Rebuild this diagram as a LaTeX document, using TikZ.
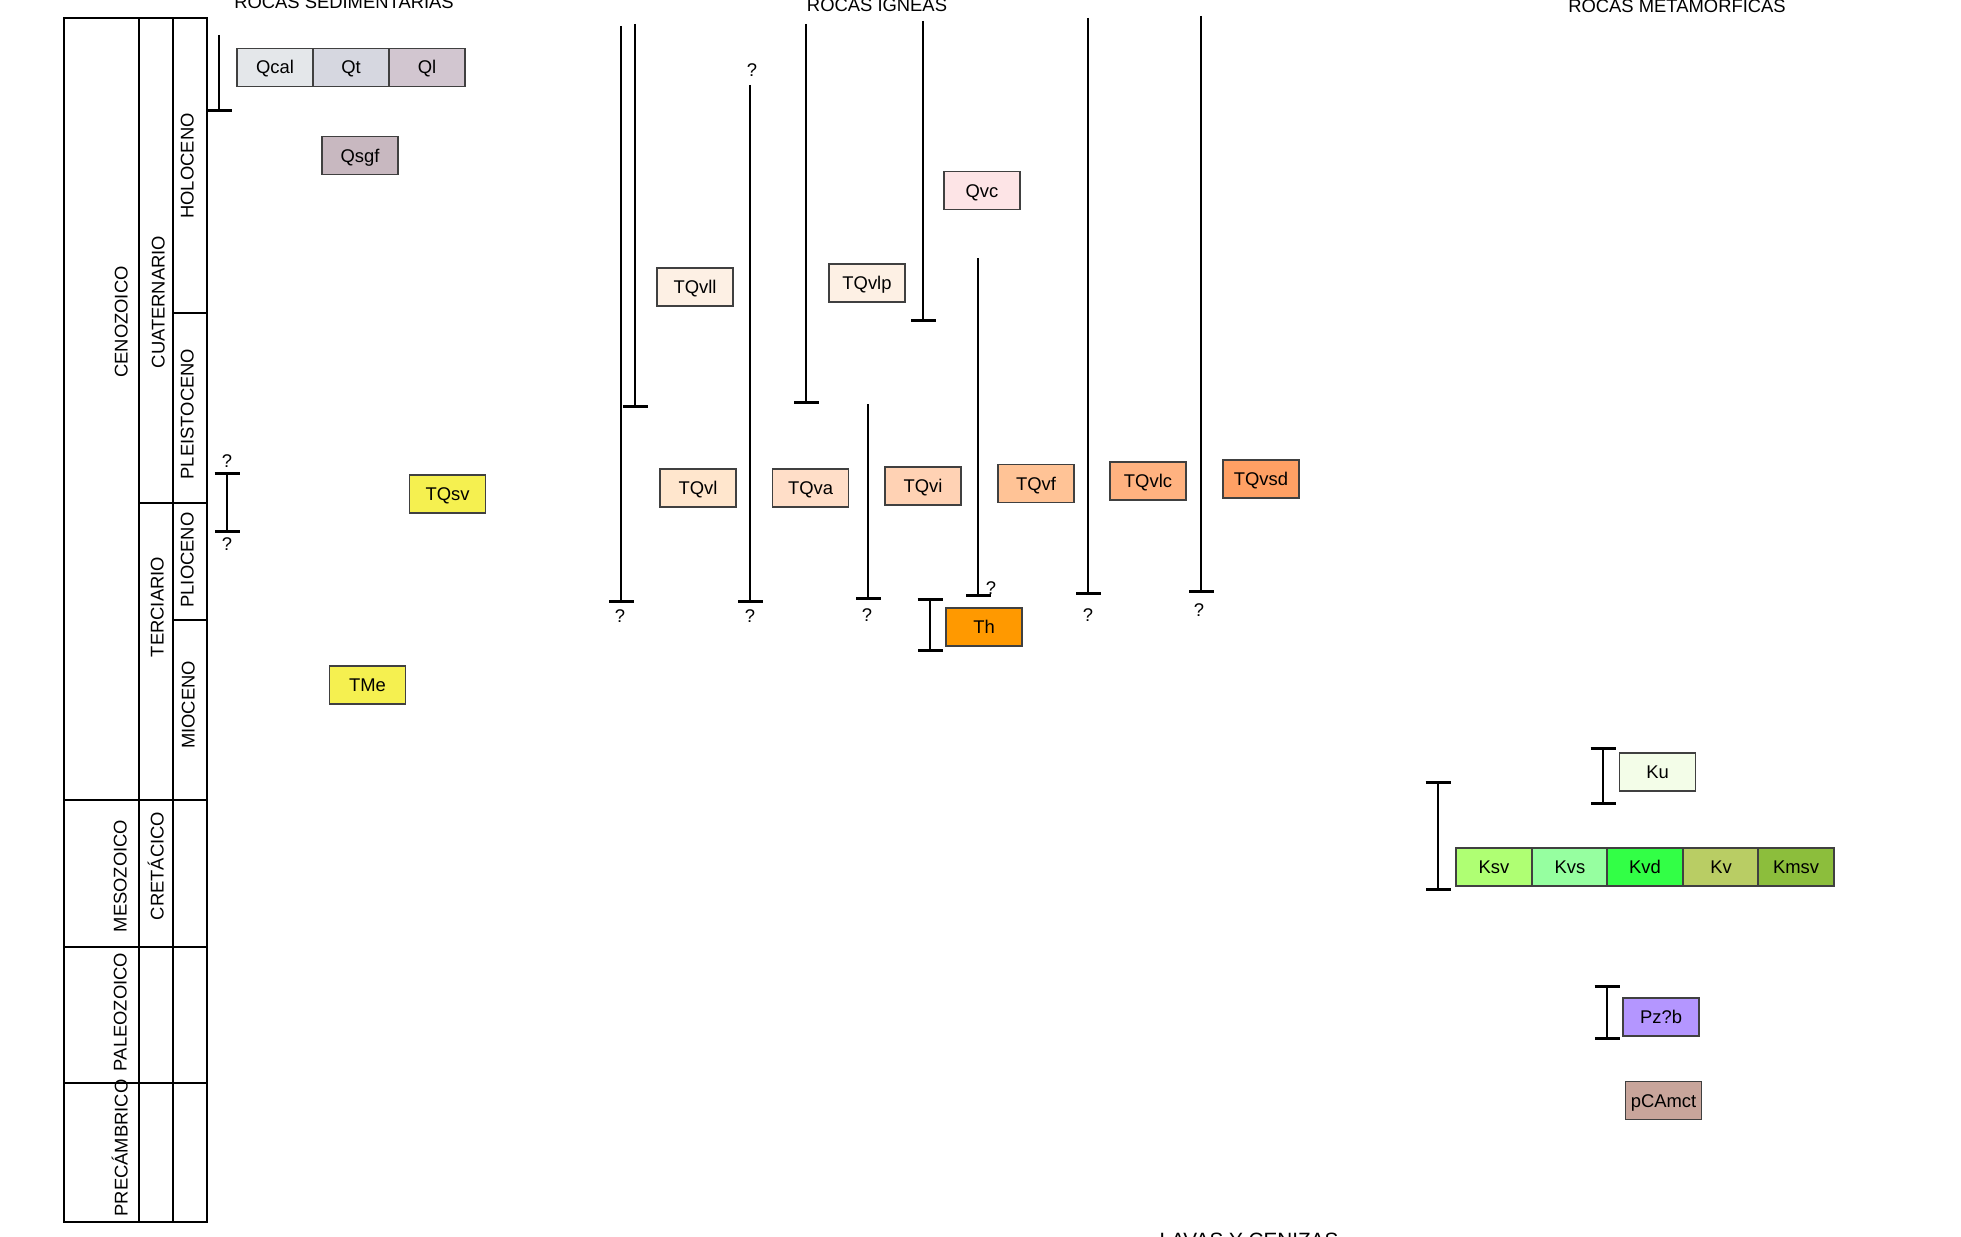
\documentclass[tikz,border=0pt]{standalone}
\usepackage{fontspec}
\setmainfont{Liberation Sans}
\usetikzlibrary{arrows.meta}
\definecolor{cQcal}{RGB}{228,231,234}
\definecolor{cQt}{RGB}{214,215,224}
\definecolor{cQl}{RGB}{210,198,208}
\definecolor{cQsgf}{RGB}{200,184,192}
\definecolor{cYel}{RGB}{245,240,80}
\definecolor{cTQvll}{RGB}{253,240,228}
\definecolor{cQvc}{RGB}{253,228,230}
\definecolor{cTQvl}{RGB}{255,230,205}
\definecolor{cTQva}{RGB}{255,222,200}
\definecolor{cTQvi}{RGB}{255,210,180}
\definecolor{cTQvf}{RGB}{255,195,150}
\definecolor{cTQvlc}{RGB}{255,178,128}
\definecolor{cTQvsd}{RGB}{255,160,100}
\definecolor{cTh}{RGB}{255,153,0}
\definecolor{cKu}{RGB}{243,253,232}
\definecolor{cKsv}{RGB}{175,255,115}
\definecolor{cKvs}{RGB}{150,255,160}
\definecolor{cKvd}{RGB}{50,255,70}
\definecolor{cKv}{RGB}{185,205,100}
\definecolor{cKmsv}{RGB}{140,190,60}
\definecolor{cPz}{RGB}{180,150,255}
\definecolor{cpC}{RGB}{200,165,155}
\newcommand{\fs}{\fontsize{18.4}{21}\selectfont}
\newcommand{\fsbig}{\fontsize{20.7}{24}\selectfont}
\begin{document}
\begin{tikzpicture}[x=1pt,y=-1pt,
  lbl/.style={font=\fs, inner sep=0pt, text height=13pt, text depth=0pt},
  vlbl/.style={lbl, rotate=90},
  unit/.style={lbl, draw=black!75, line width=1.2pt, minimum width=76pt, minimum height=38pt},
  tbl/.style={line width=2.8pt, line cap=rect},
  endbar/.style={line width=2.6pt, -{Bar[width=25pt]}},
  bothbar/.style={line width=2.6pt, {Bar[width=25pt]}-{Bar[width=25pt]}}
]
\useasboundingbox (0,0) rectangle (1961,1236);

% titles
\node[font=\fs, anchor=base] (tsed) at (344,9) {ROCAS SEDIMENTARIAS};
\node[font=\fs, anchor=base] (tign) at (877,12) {ROCAS IGNEAS};
\node[font=\fs, anchor=base] (tmet) at (1677,13) {ROCAS METAMORFICAS};
\node[font=\fsbig, anchor=base] (tlav) at (1249,1247) {LAVAS Y CENIZAS};

% time table
\draw[tbl] (64,18) rectangle (207,1222);
\draw[tbl] (139,18) -- (139,1222);
\draw[tbl] (173,18) -- (173,1222);
\draw[tbl] (173,313) -- (207,313);
\draw[tbl] (139,503) -- (207,503);
\draw[tbl] (173,620) -- (207,620);
\draw[tbl] (64,800) -- (207,800);
\draw[tbl] (64,947) -- (207,947);
\draw[tbl] (64,1083) -- (207,1083);

\node[vlbl] (ceno) at (121,322) {CENOZOICO};
\node[vlbl] (cuat) at (158,302) {CUATERNARIO};
\node[vlbl] (holo) at (187,166) {HOLOCENO};
\node[vlbl] (plei) at (187,414) {PLEISTOCENO};
\node[vlbl] (plio) at (187,560) {PLIOCENO};
\node[vlbl] (terc) at (157,607) {TERCIARIO};
\node[vlbl] (mioc) at (188,705) {MIOCENO};
\node[vlbl] (meso) at (120,876) {MESOZOICO};
\node[vlbl] (cret) at (157,866) {CRETÁCICO};
\node[vlbl] (pale) at (120,1012) {PALEOZOICO};
\node[vlbl] (prec) at (121,1148) {PRECÁMBRICO};

% sedimentary units
\node[unit, fill=cQcal] (Qcal) at (275,67.5) {Qcal};
\node[unit, fill=cQt] (Qt) at (351,67.5) {Qt};
\node[unit, fill=cQl] (Ql) at (427,67.5) {Ql};
\node[unit, fill=cQsgf] (Qsgf) at (360,155.5) {Qsgf};
\node[unit, fill=cYel] (TQsv) at (447.5,494) {TQsv};
\node[unit, fill=cYel] (TMe) at (367.5,685) {TMe};

\coordinate (s1a) at (219,35); \coordinate (s1b) at (219,112);
\draw[endbar] (s1a) -- (s1b);
\coordinate (s2a) at (227,472); \coordinate (s2b) at (227,533);
\draw[bothbar] (s2a) -- (s2b);
\node[lbl] (q1) at (227,461) {?};
\node[lbl] (q2) at (227,544) {?};

% igneous units
\node[unit, fill=cTQvll] (TQvll) at (695,287) {TQvll};
\node[unit, fill=cTQvll] (TQvlp) at (867,283) {TQvlp};
\node[unit, fill=cQvc] (Qvc) at (982,190.5) {Qvc};
\node[unit, fill=cTQvl] (TQvl) at (698,488) {TQvl};
\node[unit, fill=cTQva] (TQva) at (810.5,488) {TQva};
\node[unit, fill=cTQvi] (TQvi) at (923,486) {TQvi};
\node[unit, fill=cTQvf] (TQvf) at (1036,483.5) {TQvf};
\node[unit, fill=cTQvlc] (TQvlc) at (1148,481) {TQvlc};
\node[unit, fill=cTQvsd] (TQvsd) at (1261,479) {TQvsd};
\node[unit, fill=cTh] (Th) at (984,627) {Th};

\coordinate (ia1) at (621,26);  \coordinate (ia2) at (621,603);
\coordinate (ib1) at (635,24);  \coordinate (ib2) at (635,408);
\coordinate (ic1) at (750,85);  \coordinate (ic2) at (750,603);
\coordinate (id1) at (806,24);  \coordinate (id2) at (806,404);
\coordinate (ie1) at (923,21);  \coordinate (ie2) at (923,322);
\coordinate (if1) at (868,404); \coordinate (if2) at (868,600);
\coordinate (ig1) at (978,258); \coordinate (ig2) at (978,597);
\coordinate (ih1) at (1088,18); \coordinate (ih2) at (1088,595);
\coordinate (ii1) at (1201,16); \coordinate (ii2) at (1201,593);
\coordinate (ith1) at (930,598); \coordinate (ith2) at (930,652);
\draw[endbar] (ia1) -- (ia2);
\draw[endbar] (ib1) -- (ib2);
\draw[endbar] (ic1) -- (ic2);
\draw[endbar] (id1) -- (id2);
\draw[endbar] (ie1) -- (ie2);
\draw[endbar] (if1) -- (if2);
\draw[endbar] (ig1) -- (ig2);
\draw[endbar] (ih1) -- (ih2);
\draw[endbar] (ii1) -- (ii2);
\draw[bothbar] (ith1) -- (ith2);

\node[lbl] (qa) at (620,616) {?};
\node[lbl] (qc1) at (752,70.5) {?};
\node[lbl] (qc2) at (750,616) {?};
\node[lbl] (qf) at (867,615) {?};
\node[lbl] (qg) at (991,588) {?};
\node[lbl] (qh) at (1088,615) {?};
\node[lbl] (qi) at (1199,609.5) {?};

% metamorphic units
\node[unit, fill=cKu] (Ku) at (1657.5,772) {Ku};
\node[unit, fill=cKsv] (Ksv) at (1494,867) {Ksv};
\node[unit, fill=cKvs] (Kvs) at (1570,867) {Kvs};
\node[unit, fill=cKvd] (Kvd) at (1645,867) {Kvd};
\node[unit, fill=cKv] (Kv) at (1721,867) {Kv};
\node[unit, fill=cKmsv] (Kmsv) at (1796,867) {Kmsv};
\node[unit, fill=cPz] (Pzb) at (1661,1017) {Pz?b};
\node[unit, fill=cpC] (pCAmct) at (1663.5,1100.5) {pCAmct};

\coordinate (mk1) at (1603,747); \coordinate (mk2) at (1603,805);
\coordinate (mb1) at (1438,781); \coordinate (mb2) at (1438,891);
\coordinate (mp1) at (1607,985); \coordinate (mp2) at (1607,1040);
\draw[bothbar] (mk1) -- (mk2);
\draw[bothbar] (mb1) -- (mb2);
\draw[bothbar] (mp1) -- (mp2);
\end{tikzpicture}
\end{document}
